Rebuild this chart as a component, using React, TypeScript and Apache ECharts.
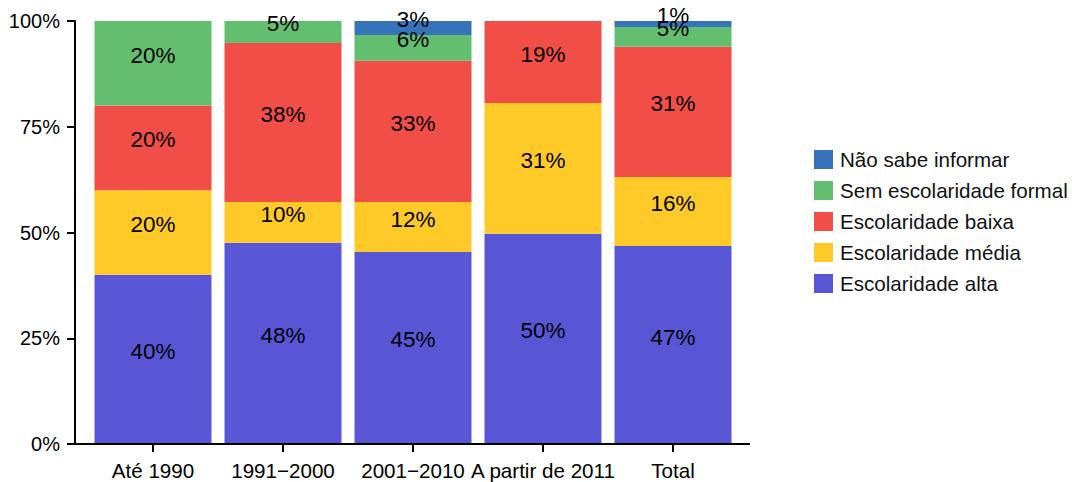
import React, { useEffect, useRef } from "react";
import * as echarts from "echarts";

const categories = ["Até 1990", "1991\u22122000", "2001\u22122010", "A partir de 2011", "Total"];
const alta = [40, 47.6, 45.4, 49.7, 46.8];
const media = [20, 9.6, 11.8, 30.9, 16.3];
const baixa = [20, 37.6, 33.4, 19.4, 30.8];
const semEscolaridade = [20, 5.2, 6.1, 0, 4.7];
const naoSabe = [0, 0, 3.3, 0, 1.4];

const seriesNames = [
  "Escolaridade alta",
  "Escolaridade média",
  "Escolaridade baixa",
  "Sem escolaridade formal",
  "Não sabe informar",
];
const seriesColors = ["#5956D6", "#FFCA27", "#F04E47", "#63BE6F", "#3673BA"];
const yTicks = [0, 25, 50, 75, 100];

const FONT = "'Liberation Sans', Arial, Helvetica, sans-serif";

export default function App() {
  const ref = useRef<HTMLDivElement>(null);
  useEffect(() => {
    if (!ref.current) return;
    const chart = echarts.init(ref.current, undefined, { renderer: "svg" });
    const dataSets = [alta, media, baixa, semEscolaridade, naoSabe];
    chart.setOption({
      animation: false,
      textStyle: { fontFamily: FONT },
      grid: { left: 88, right: 334, top: 21, bottom: 38, containLabel: false },
      legend: {
        orient: "vertical",
        left: 809,
        top: 144,
        itemWidth: 19,
        itemHeight: 19,
        itemGap: 10,
        icon: "rect",
        data: [...seriesNames].reverse(),
        textStyle: { fontSize: 20.6, color: "#111", fontFamily: FONT, lineHeight: 20, padding: [0, 0, 0, 2] },
      },
      xAxis: {
        type: "category",
        data: categories,
        axisLine: { show: false },
        axisTick: { show: true, alignWithLabel: true, length: 8, lineStyle: { color: "#000", width: 2 } },
        axisLabel: { color: "#000", fontSize: 20.6, margin: 16, interval: 0, fontFamily: FONT },
      },
      yAxis: {
        type: "value",
        min: yTicks[0],
        max: yTicks[yTicks.length - 1],
        interval: 25,
        offset: 13,
        splitLine: { show: false },
        axisLine: { show: true, lineStyle: { color: "#000", width: 2 } },
        axisTick: { show: true, length: 8, lineStyle: { color: "#000", width: 2 } },
        axisLabel: { color: "#000", fontSize: 20, margin: 15, formatter: "{value}%", fontFamily: FONT },
      },
      graphic: [
        {
          type: "line",
          shape: { x1: 74, y1: 444, x2: 750, y2: 444 },
          style: { stroke: "#000", lineWidth: 2 },
          z: 10,
        },
      ],
      series: seriesNames.map((name, i) => ({
        name,
        type: "bar",
        stack: "total",
        barCategoryGap: "10%",
        itemStyle: { color: seriesColors[i] },
        label: {
          show: true,
          position: "inside",
          offset: [0, -8],
          color: "#000",
          fontSize: 22.5,
          fontFamily: FONT,
          formatter: (p: any) => (p.value > 0 ? Math.round(p.value) + "%" : ""),
        },
        data: dataSets[i].map((v) => (v > 0 ? v : null)),
      })),
    });
    return () => chart.dispose();
  }, []);
  return (
    <div
      ref={ref}
      style={{ position: "absolute", left: 0, top: 0, width: 1072, height: 482, background: "#fff" }}
    />
  );
}
